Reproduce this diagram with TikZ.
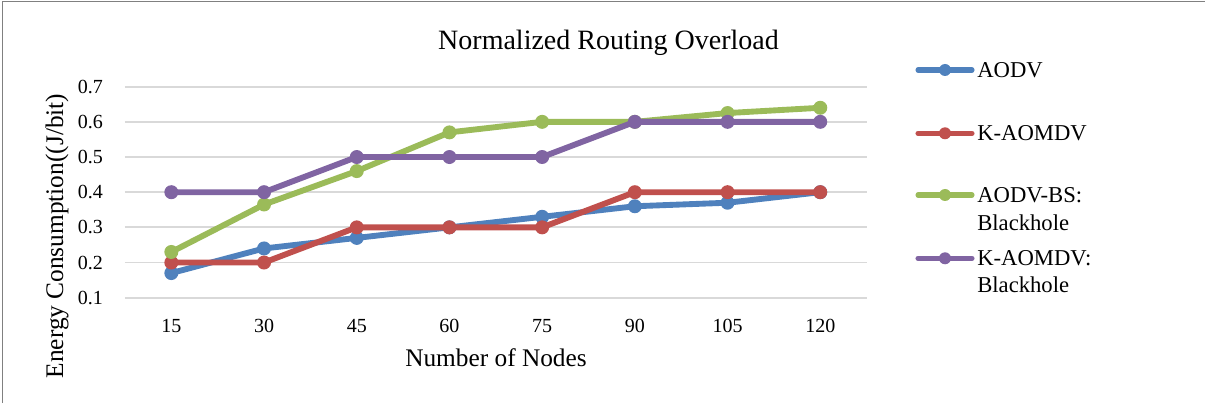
\documentclass[tikz,border=0pt]{standalone}
\usepackage{fontspec}
\setmainfont{Liberation Serif}
\usepackage{tikz}
\definecolor{aodvblue}{RGB}{79,129,189}
\definecolor{kred}{RGB}{192,80,77}
\definecolor{bsgreen}{RGB}{155,187,89}
\definecolor{kpurple}{RGB}{128,100,162}
\definecolor{gridgray}{RGB}{217,217,217}

\begin{document}
\begin{tikzpicture}[x=0.75pt, y=0.75pt,
  series/.style={line width=4.4pt, line cap=round, line join=round},
  dot/.style={circle, fill=#1, inner sep=0pt, minimum size=10.5pt},
  legdot/.style={circle, fill=#1, inner sep=0pt, minimum size=9pt},
  legline/.style={line width=3.8pt, line cap=round},
  tick/.style={inner sep=0pt, font=\fontsize{15}{18}\selectfont},
  legtext/.style={anchor=west, inner sep=0pt, font=\fontsize{17}{20}\selectfont}]
\useasboundingbox (0,0) rectangle (1205,403);
\draw [gray, line width=1.2pt] (2.5,0) -- (2.5,401.5) -- (1205,401.5);

\node [anchor=base, font=\fontsize{21}{25}\selectfont] (title) at (608.5,353) {Normalized Routing Overload};
\node [anchor=base, font=\fontsize{19}{23}\selectfont] (xlabel) at (496,36.3) {Number of Nodes};
\node [rotate=90, font=\fontsize{19}{23}\selectfont] (ylabel) at (57,167) {Energy Consumption((J/bit)};

\begin{scope}[shift={(128.51pt,52.6pt)}, x=69.525pt, y=263.775pt]
\foreach \v [count=\i] in {0.1,0.2,0.3,0.4,0.5,0.6,0.7} {
  \draw [gridgray, line width=1.3pt] (-0.5,\v) -- (7.5,\v);
  \node [tick, anchor=east] (yt\i) at (-0.737,\v) {\v};
}
\foreach \n [count=\i from 0] in {15,30,45,60,75,90,105,120}
  \node [tick, anchor=base] (xt\i) at (\i,0) {\n};

\draw [aodvblue, series] plot coordinates {(0,0.17) (1,0.24) (2,0.27) (3,0.30) (4,0.33) (5,0.36) (6,0.37) (7,0.40)};
\foreach \y [count=\i from 0] in {0.17,0.24,0.27,0.30,0.33,0.36,0.37,0.40}
  \node [dot=aodvblue] (a\i) at (\i,\y) {};
\draw [kred, series] plot coordinates {(0,0.2) (1,0.2) (2,0.3) (3,0.3) (4,0.3) (5,0.4) (6,0.4) (7,0.4)};
\foreach \y [count=\i from 0] in {0.2,0.2,0.3,0.3,0.3,0.4,0.4,0.4}
  \node [dot=kred] (k\i) at (\i,\y) {};
\draw [bsgreen, series] plot coordinates {(0,0.23) (1,0.365) (2,0.46) (3,0.57) (4,0.6) (5,0.6) (6,0.625) (7,0.64)};
\foreach \y [count=\i from 0] in {0.23,0.365,0.46,0.57,0.6,0.6,0.625,0.64}
  \node [dot=bsgreen] (b\i) at (\i,\y) {};
\draw [kpurple, series] plot coordinates {(0,0.4) (1,0.4) (2,0.5) (3,0.5) (4,0.5) (5,0.6) (6,0.6) (7,0.6)};
\foreach \y [count=\i from 0] in {0.4,0.4,0.5,0.5,0.5,0.6,0.6,0.6}
  \node [dot=kpurple] (p\i) at (\i,\y) {};
\end{scope}

\draw [aodvblue, legline] (918,333) -- (972,333); \node [legdot=aodvblue] (m1) at (945,333) {};
\node [legtext] (leg1) at (977,333) {AODV};
\draw [kred, legline] (918,269.7) -- (972,269.7); \node [legdot=kred] (m2) at (945,269.7) {};
\node [legtext] (leg2) at (977,269.7) {K-AOMDV};
\draw [bsgreen, legline] (918,208) -- (972,208); \node [legdot=bsgreen] (m3) at (945,208) {};
\node [legtext] (leg3) at (977,208) {AODV-BS:};
\node [legtext] (leg3b) at (977,180.3) {Blackhole};
\draw [kpurple, legline] (918,144.7) -- (972,144.7); \node [legdot=kpurple] (m4) at (945,144.7) {};
\node [legtext] (leg4) at (977,144.7) {K-AOMDV:};
\node [legtext] (leg4b) at (977,118) {Blackhole};
\end{tikzpicture}
\end{document}
